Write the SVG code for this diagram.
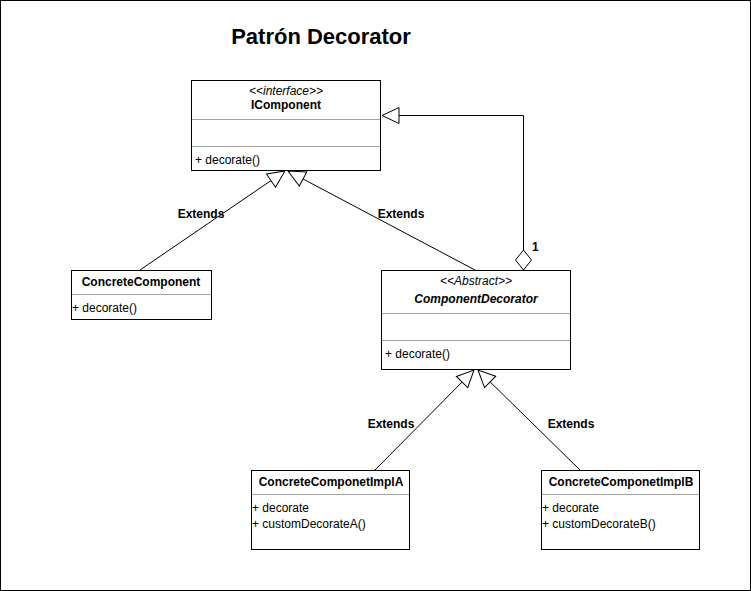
<svg xmlns="http://www.w3.org/2000/svg" width="751" height="591" viewBox="0 0 751 591">
<style>
text{font-family:"Liberation Sans",Arial,sans-serif;font-size:12px;fill:#000}
.b{font-weight:bold}
.i{font-style:italic}
.c{text-anchor:middle}
.box{fill:#fff;stroke:#000;stroke-width:1}
.sep{stroke:#a0a0a0;stroke-width:1}
.edge{fill:none;stroke:#000;stroke-width:1}
</style>
<defs>
<marker id="tri" markerUnits="userSpaceOnUse" viewBox="0 0 20 18" refX="18" refY="9" markerWidth="20" markerHeight="18" orient="auto">
<path d="M1,1 L18,9 L1,17 Z" fill="#fff" stroke="#000" stroke-width="1"/>
</marker>
<marker id="dia" markerUnits="userSpaceOnUse" viewBox="0 0 22 18" refX="1" refY="9" markerWidth="22" markerHeight="18" orient="auto">
<path d="M1,9 L11,1 L21,9 L11,17 Z" fill="#fff" stroke="#000" stroke-width="1"/>
</marker>
</defs>
<rect x="0.5" y="0.5" width="750" height="590" fill="#fff" stroke="#000"/>
<text class="b c" x="321" y="44" style="font-size:22px">Patrón Decorator</text>

<g id="connectors">
<path class="edge" d="M140,270 L285,171" marker-end="url(#tri)"/>
<path class="edge" d="M475,270 L288,171" marker-end="url(#tri)"/>
<path class="edge" d="M523.5,270 L523.5,115.5 L382,115.5" marker-start="url(#dia)" marker-end="url(#tri)"/>
<path class="edge" d="M375,470 L474,370" marker-end="url(#tri)"/>
<path class="edge" d="M580,470 L478,370" marker-end="url(#tri)"/>
<text class="b c" x="201" y="218">Extends</text>
<text class="b c" x="401" y="218">Extends</text>
<text class="b" x="532" y="251">1</text>
<text class="b c" x="391" y="428">Extends</text>
<text class="b c" x="571" y="428">Extends</text>
</g>

<g id="IComponent">
<rect class="box" x="191.5" y="80.5" width="189" height="90"/>
<line class="sep" x1="192" y1="119.5" x2="380" y2="119.5"/>
<line class="sep" x1="192" y1="146.5" x2="380" y2="146.5"/>
<text class="i c" x="286" y="95">&lt;&lt;interface&gt;&gt;</text>
<text class="b c" x="286" y="109">IComponent</text>
<text x="195" y="164">+ decorate()</text>
</g>

<g id="ConcreteComponent">
<rect class="box" x="71.5" y="270.5" width="140" height="49"/>
<line class="sep" x1="72" y1="294.5" x2="211" y2="294.5"/>
<text class="b c" x="141" y="286">ConcreteComponent</text>
<text x="72" y="312">+ decorate()</text>
</g>

<g id="ComponentDecorator">
<rect class="box" x="381.5" y="270.5" width="189" height="99"/>
<line class="sep" x1="382" y1="313.5" x2="570" y2="313.5"/>
<line class="sep" x1="382" y1="340.5" x2="570" y2="340.5"/>
<text class="i c" x="476" y="285">&lt;&lt;Abstract&gt;&gt;</text>
<text class="b i c" x="476" y="303">ComponentDecorator</text>
<text x="385" y="358">+ decorate()</text>
</g>

<g id="ConcreteComponetImplA">
<rect class="box" x="251.5" y="470.5" width="158" height="79"/>
<line class="sep" x1="252" y1="494.5" x2="409" y2="494.5"/>
<text class="b c" x="331" y="486">ConcreteComponetImplA</text>
<text x="252" y="512">+ decorate</text>
<text x="252" y="528">+ customDecorateA()</text>
</g>

<g id="ConcreteComponetImplB">
<rect class="box" x="541.5" y="470.5" width="158" height="79"/>
<line class="sep" x1="542" y1="494.5" x2="699" y2="494.5"/>
<text class="b c" x="621" y="486">ConcreteComponetImplB</text>
<text x="542" y="512">+ decorate</text>
<text x="542" y="528">+ customDecorateB()</text>
</g>
</svg>
